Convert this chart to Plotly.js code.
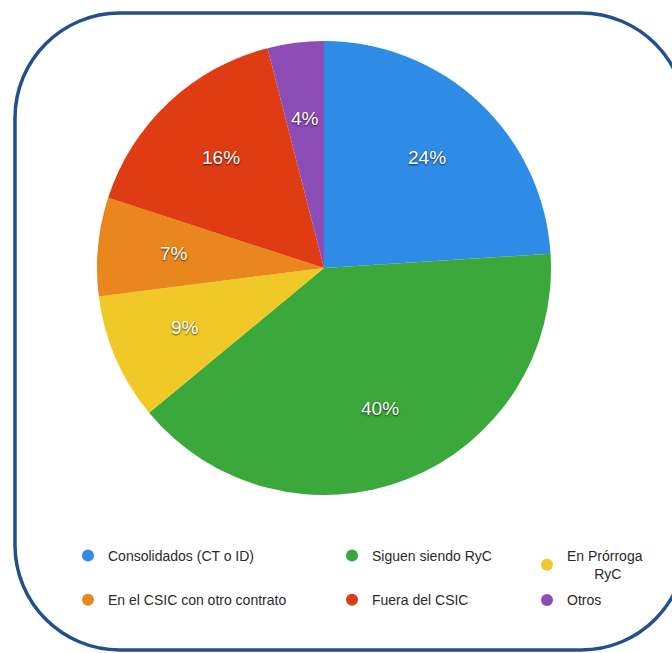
<!DOCTYPE html>
<html>
<head>
<meta charset="utf-8">
<script src="https://cdn.plot.ly/plotly-3.0.1.min.js"></script>
<style>
html,body{margin:0;padding:0;background:#fff;}
#chart{width:672px;height:653px;}
</style>
</head>
<body>
<div id="chart"></div>
<script>
// ---- data ----
const categories = ["Consolidados (CT o ID)", "Siguen siendo RyC", "En Prórroga RyC",
                    "En el CSIC con otro contrato", "Fuera del CSIC", "Otros"];
const values = [24, 40, 9, 7, 16, 4];
const legendLabels = ["Consolidados (CT o ID)", "Siguen siendo RyC",
                      "En Prórroga<br>\u00a0\u00a0\u00a0\u00a0\u00a0\u00a0\u00a0RyC",
                      "En el CSIC con otro contrato", "Fuera del CSIC", "Otros"];
const colors = ["#2f8ce6", "#3aa83a", "#f0c928", "#e9861e", "#e03c14", "#8d4db7"];
const legendCols = ["legend", "legend2", "legend3", "legend", "legend2", "legend3"];

const W = 672, H = 653;
const px = x => x / W;
const py = y => 1 - y / H;

// pie placement (pixels)
const pieCx = 324, pieCy = 268, pieR = 227;
const labelFrac = 0.665; // labels sit at this fraction of the radius, on each slice's bisector

// rounded border path (pixel -> paper)
function roundedRect(x0, y0, x1, y1, r) {
  const k = 0.5523 * r;
  const P = (x, y) => px(x).toFixed(4) + "," + py(y).toFixed(4);
  return "M" + P(x0 + r, y0) +
    " L" + P(x1 - r, y0) +
    " C" + P(x1 - r + k, y0) + " " + P(x1, y0 + r - k) + " " + P(x1, y0 + r) +
    " L" + P(x1, y1 - r) +
    " C" + P(x1, y1 - r + k) + " " + P(x1 - r + k, y1) + " " + P(x1 - r, y1) +
    " L" + P(x0 + r, y1) +
    " C" + P(x0 + r - k, y1) + " " + P(x0, y1 - r + k) + " " + P(x0, y1 - r) +
    " L" + P(x0, y0 + r) +
    " C" + P(x0, y0 + r - k) + " " + P(x0 + r - k, y0) + " " + P(x0 + r, y0) + " Z";
}

const traces = [{
  type: "pie",
  labels: categories,
  values: values,
  sort: false,
  direction: "clockwise",
  rotation: 0,
  marker: {colors: colors, line: {width: 0}},
  textinfo: "none",
  hoverinfo: "label+percent",
  showlegend: false,
  domain: {x: [px(pieCx - pieR), px(pieCx + pieR)], y: [py(pieCy + pieR), py(pieCy - pieR)]}
}];

categories.forEach((c, i) => {
  traces.push({
    type: "scatter",
    mode: "markers",
    x: [null], y: [null],
    name: legendLabels[i],
    legendgroup: "g" + i,
    marker: {color: colors[i], size: 12, symbol: "circle"},
    showlegend: true,
    legend: legendCols[i],
    hoverinfo: "skip"
  });
});

// percentage labels on slice bisectors (derived from the values)
const total = values.reduce((a, b) => a + b, 0);
let cum = 0;
const annotations = values.map(v => {
  const mid = (cum + v / 2) / total * 2 * Math.PI;
  cum += v;
  const d = labelFrac * pieR;
  return {
    xref: "paper", yref: "paper",
    x: px(pieCx + d * Math.sin(mid)),
    y: py(pieCy - d * Math.cos(mid)),
    xanchor: "center", yanchor: "middle",
    text: Math.round(v / total * 100) + "%",
    showarrow: false,
    font: {family: "Liberation Sans, Arial, sans-serif", size: 19, color: "#ffffff",
           shadow: "0px 1px 2px rgba(0,0,0,0.75)"}
  };
});

const legFont = {family: "Liberation Sans, Arial, sans-serif", size: 14, color: "#2a2a2a"};
const legBase = {orientation: "v", traceorder: "grouped", font: legFont,
                 bgcolor: "rgba(0,0,0,0)", borderwidth: 0, xanchor: "left", yanchor: "top",
                 itemclick: false, itemdoubleclick: false};

const layout = {
  width: W, height: H,
  margin: {l: 0, r: 0, t: 0, b: 0},
  paper_bgcolor: "#ffffff",
  plot_bgcolor: "#ffffff",
  xaxis: {visible: false, domain: [0, 0.01]},
  yaxis: {visible: false, domain: [0, 0.01]},
  legend: Object.assign({}, legBase, {x: px(68), y: py(540), tracegroupgap: 23}),
  legend2: Object.assign({}, legBase, {x: px(332), y: py(540), tracegroupgap: 23}),
  legend3: Object.assign({}, legBase, {x: px(527), y: py(540), tracegroupgap: 5}),
  annotations: annotations,
  shapes: [{
    type: "path",
    xref: "paper", yref: "paper",
    path: roundedRect(15, 13, 686, 650, 105),
    line: {color: "#234f8a", width: 3.5},
    fillcolor: "rgba(0,0,0,0)",
    layer: "above"
  }],
  showlegend: true
};

Plotly.newPlot("chart", traces, layout, {displayModeBar: false, staticPlot: true});
</script>
</body>
</html>
